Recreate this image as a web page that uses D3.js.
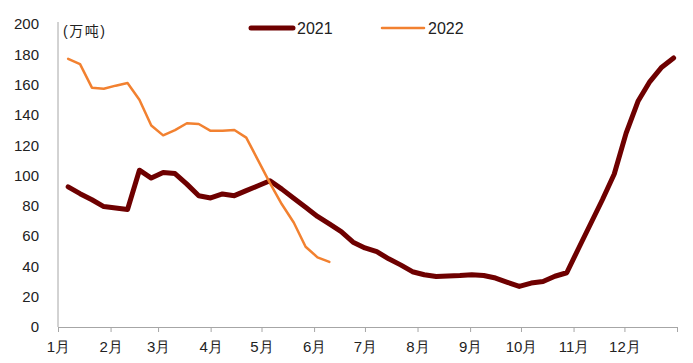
<!DOCTYPE html>
<html>
<head>
<meta charset="utf-8">
<script src="https://cdn.jsdelivr.net/npm/d3@7"></script>
<style>
  body { margin: 0; background: #fff; }
  svg { display: block; font-family: "Liberation Sans", Arial, "Noto Sans CJK SC", sans-serif; }
</style>
</head>
<body>
<svg id="chart" width="693" height="363"></svg>
<script>
// weekly points, plotted on a Jan-Dec axis (day of year)
const dates2021 = [
  '01-07','01-14','01-21','01-28','02-04','02-11','02-18','02-25','03-04','03-11',
  '03-18','03-25','04-01','04-08','04-15','04-22','04-29','05-06','05-13','05-20',
  '05-27','06-03','06-10','06-17','06-24','07-01','07-08','07-15','07-22','07-29',
  '08-05','08-12','08-19','08-26','09-02','09-09','09-16','09-23','09-30','10-07',
  '10-14','10-21','10-28','11-04','11-11','11-18','11-25','12-02','12-09','12-16',
  '12-23','12-30'
];
const values2021 = [
  92.5, 88, 84, 79.5, 78.5, 77.5, 103.5, 98.3, 102, 101.3,
  94.3, 86.6, 85.2, 87.8, 86.7, 90, 93.2, 96.5, 91, 85,
  79, 73, 68, 63, 56, 52.2, 49.7, 45, 41, 36.5,
  34.5, 33.3, 33.7, 34, 34.5, 34, 32.3, 29.5, 26.8, 29,
  30, 33.5, 35.8, 52, 68, 84, 101, 128, 149, 162,
  171.5, 177.6
];
const dates2022 = [
  '01-07','01-14','01-21','01-28','02-04','02-11','02-18','02-25','03-04','03-11',
  '03-18','03-25','04-01','04-08','04-15','04-22','04-29','05-06','05-13','05-20',
  '05-27','06-03','06-10'
];
const values2022 = [
  177, 173.5, 158, 157.3, 159.3, 161, 150, 133, 126.5, 130,
  134.5, 134, 129.5, 129.5, 130, 125, 110, 95, 81, 69,
  53, 46, 43
];
const yTicks = [0, 20, 40, 60, 80, 100, 120, 140, 160, 180, 200];
const monthLabels = ['1月','2月','3月','4月','5月','6月','7月','8月','9月','10月','11月','12月'];
const seriesNames = ['2021', '2022'];

const parse = d3.timeParse('%Y-%m-%d');
const toDate = md => parse('2021-' + md);

const svg = d3.select('#chart');

const x = d3.scaleTime()
  .domain([new Date(2021, 0, 1), new Date(2022, 0, 1)])
  .range([58, 677]);
const y = d3.scaleLinear().domain([0, 200]).range([327, 24]);

// y axis
const yAxis = svg.append('g')
  .attr('transform', 'translate(58,0)')
  .call(d3.axisLeft(y).tickValues(yTicks).tickSize(0).tickPadding(19));
yAxis.select('.domain').attr('stroke', '#a6a6a6').attr('d', 'M0,' + y(0) + 'V22');
yAxis.selectAll('text').attr('font-size', 15).attr('fill', '#222').attr('font-family', null);

// x axis
const xAxis = svg.append('g')
  .attr('transform', 'translate(0,' + y(0) + ')')
  .call(d3.axisBottom(x)
    .tickValues(d3.timeMonth.range(new Date(2021, 0, 1), new Date(2022, 0, 2)))
    .tickSize(5)
    .tickSizeOuter(0)
    .tickPadding(9)
    .tickFormat(d => d.getFullYear() === 2021 ? monthLabels[d.getMonth()] : ''));
xAxis.select('.domain').attr('stroke', '#a6a6a6');
xAxis.selectAll('line').attr('stroke', '#a6a6a6');
xAxis.selectAll('text').attr('font-size', 15).attr('fill', '#222').attr('font-family', null);

// unit label
svg.append('text')
  .attr('x', 63).attr('y', 36)
  .attr('font-size', 14).attr('fill', '#222')
  .attr('letter-spacing', 1.5)
  .text('(万吨)');

const line = d3.line()
  .x(d => x(d.date))
  .y(d => y(d.value));

const data2021 = dates2021.map((d, i) => ({ date: toDate(d), value: values2021[i] }));
const data2022 = dates2022.map((d, i) => ({ date: toDate(d), value: values2022[i] }));

svg.append('path')
  .datum(data2021)
  .attr('fill', 'none')
  .attr('stroke', '#6e0000')
  .attr('stroke-width', 5)
  .attr('stroke-linejoin', 'round')
  .attr('stroke-linecap', 'round')
  .attr('d', line);

svg.append('path')
  .datum(data2022)
  .attr('fill', 'none')
  .attr('stroke', '#f28130')
  .attr('stroke-width', 2.5)
  .attr('stroke-linejoin', 'round')
  .attr('stroke-linecap', 'round')
  .attr('d', line);

// legend
const legend = [
  { name: seriesNames[0], x: 251, color: '#6e0000', w: 5 },
  { name: seriesNames[1], x: 382, color: '#f28130', w: 2.5 }
];
const lg = svg.selectAll('.legend').data(legend).enter().append('g')
  .attr('transform', d => 'translate(' + d.x + ',28)');
lg.append('line')
  .attr('x1', 0).attr('x2', 42)
  .attr('stroke', d => d.color)
  .attr('stroke-width', d => d.w)
  .attr('stroke-linecap', 'round');
lg.append('text')
  .attr('x', 46).attr('y', 6)
  .attr('font-size', 16).attr('fill', '#222')
  .text(d => d.name);
</script>
</body>
</html>
